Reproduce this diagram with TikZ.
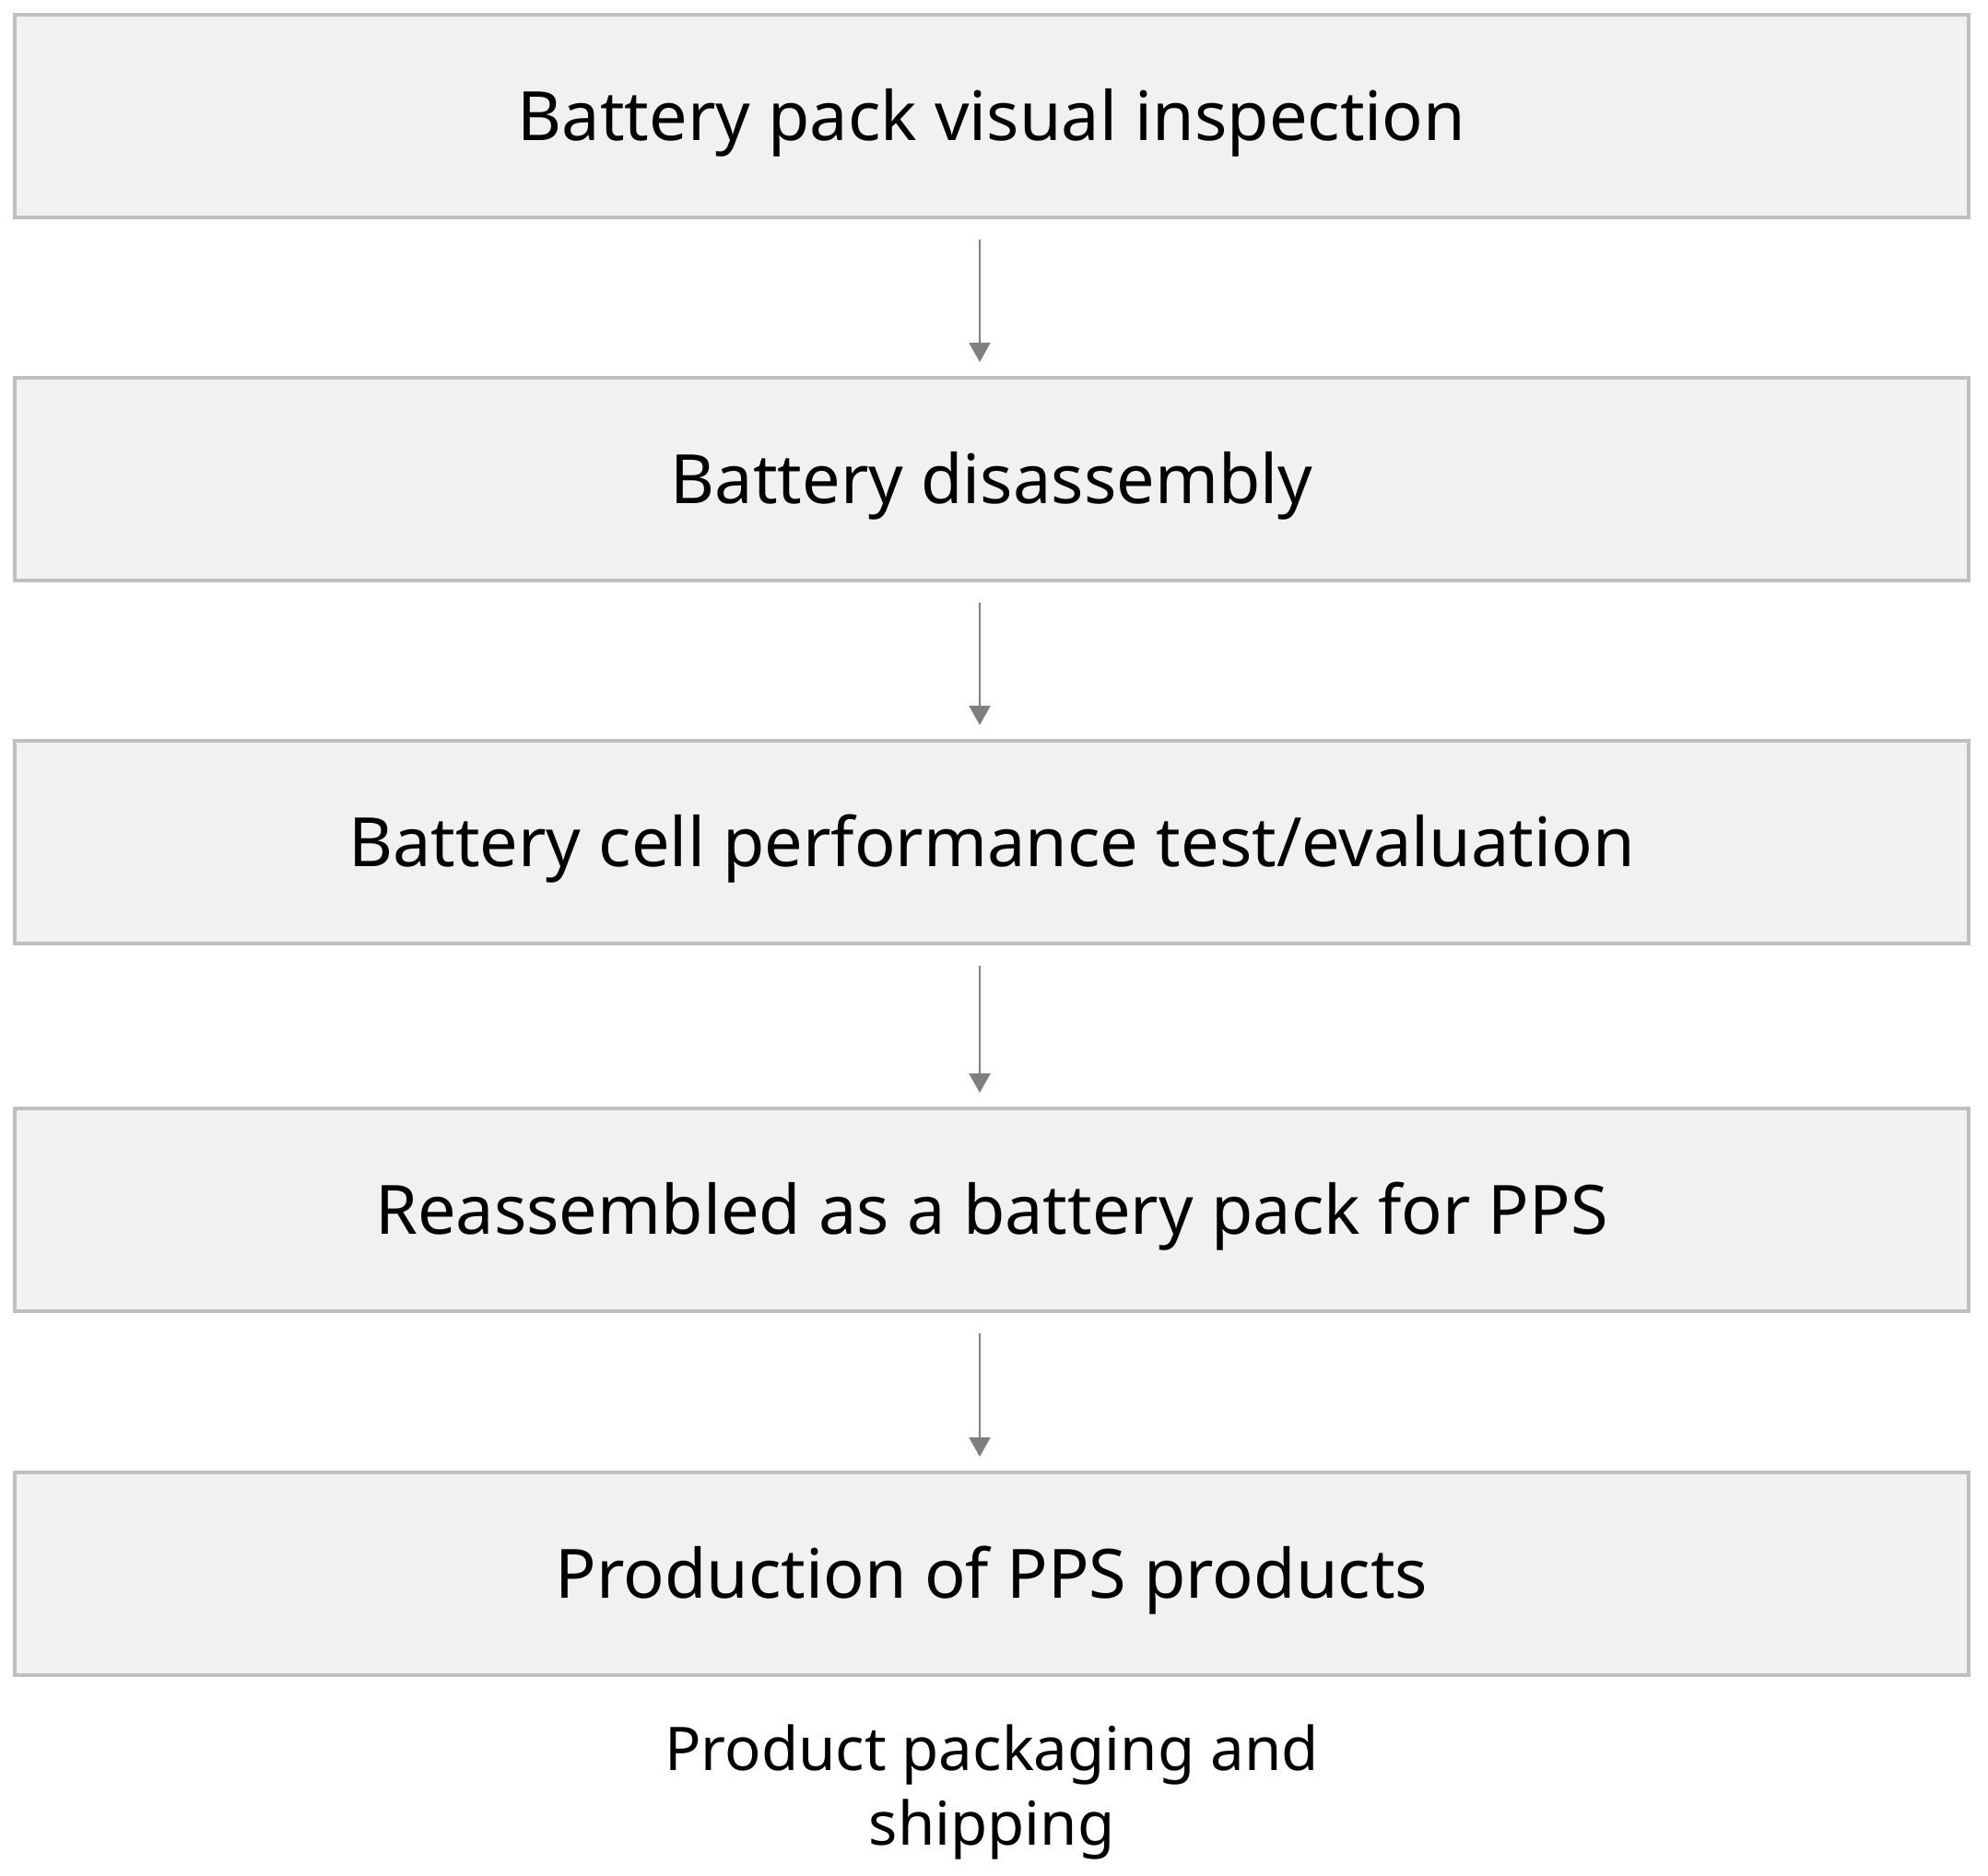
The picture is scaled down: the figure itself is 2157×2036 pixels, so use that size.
\documentclass[tikz,border=0pt]{standalone}
\usepackage{fontspec}
\setmainfont{Noto Sans}
\usetikzlibrary{arrows.meta}
\definecolor{boxfill}{HTML}{F1F1F1}
\definecolor{boxline}{HTML}{BFBFBF}
\definecolor{arrcol}{HTML}{7F7F7F}
\tikzset{
  stepbox/.style={draw=boxline, fill=boxfill, line width=1.1pt, rectangle,
    minimum width=21.18cm, minimum height=2.2cm, inner sep=0pt,
    text height=15pt, text depth=0pt,
    font=\fontsize{21}{25}\selectfont, text=black},
  flowarrow/.style={draw=arrcol, line width=0.8pt,
    -{Triangle[length=6pt,width=6.5pt]}},
  plain/.style={font=\fontsize{18.6}{22.8}\selectfont, align=center, inner sep=0pt}
}
\begin{document}
\begin{tikzpicture}[x=0.01cm,y=-0.01cm]
\useasboundingbox (0,0) rectangle (2157,2036);
\node[stepbox] (b1) at (1076,126) {Battery pack visual inspection};
\node[stepbox] (b2) at (1076,520) {Battery disassembly};
\node[stepbox] (b3) at (1076,914) {Battery cell performance test/evaluation};
\node[stepbox] (b4) at (1076,1313) {Reassembled as a battery pack for PPS};
\node[stepbox] (b5) at (1076,1708) {Production of PPS products};
\node[plain] (b6) at (1076,1945) {Product packaging and\\shipping};
\draw[flowarrow] ([xshift=-0.13cm,yshift=-0.22cm]b1.south) -- ([xshift=-0.13cm,yshift=0.15cm]b2.north);
\draw[flowarrow] ([xshift=-0.13cm,yshift=-0.22cm]b2.south) -- ([xshift=-0.13cm,yshift=0.15cm]b3.north);
\draw[flowarrow] ([xshift=-0.13cm,yshift=-0.22cm]b3.south) -- ([xshift=-0.13cm,yshift=0.15cm]b4.north);
\draw[flowarrow] ([xshift=-0.13cm,yshift=-0.22cm]b4.south) -- ([xshift=-0.13cm,yshift=0.15cm]b5.north);
\end{tikzpicture}
\end{document}
